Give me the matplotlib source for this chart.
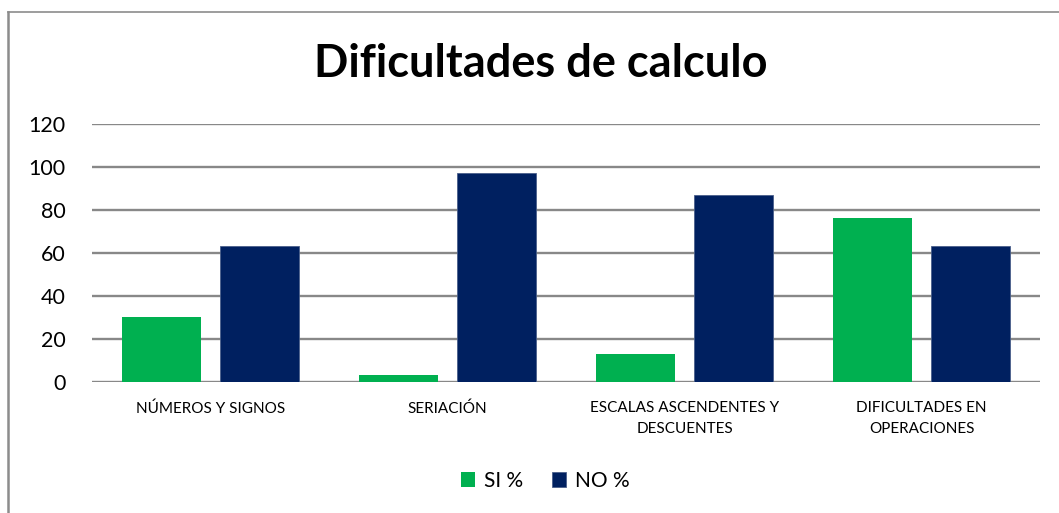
import matplotlib
matplotlib.use("Agg")
import matplotlib.pyplot as plt
from matplotlib.lines import Line2D
import numpy as np

categories = ["NÚMEROS Y SIGNOS", "SERIACIÓN", "ESCALAS ASCENDENTES Y\nDESCUENTES", "DIFICULTADES EN\nOPERACIONES"]
si_values = [30, 3, 13, 76]
no_values = [63, 97, 87, 63]
series_names = ["SI %", "NO %"]
yticks = [0, 20, 40, 60, 80, 100, 120]

plt.rcParams['font.family'] = ['Lato', 'DejaVu Sans']

W, H = 1059, 513
fig = plt.figure(figsize=(W / 100, H / 100), dpi=100)
ax = fig.add_axes([92 / W, 1 - 381.7 / H, (1040 - 92) / W, (381.7 - 124) / H])

x = np.arange(len(categories))
bw = 0.333
off = 0.208
ax.bar(x - off, si_values, bw, color="#00B050", zorder=3, label=series_names[0])
ax.bar(x + off, no_values, bw, color="#002060", zorder=3, label=series_names[1],
       edgecolor="#4a5f8a", linewidth=0.6)

ax.set_xlim(-0.5, len(categories) - 0.5)
ax.set_ylim(0, 120)
ax.set_yticks(yticks)
ax.set_yticklabels([str(v) for v in yticks], fontsize=15.5)
ax.yaxis.grid(True, color="#888888", linewidth=1.7, zorder=0)
ax.set_axisbelow(True)
for s in ax.spines.values():
    s.set_visible(False)
ax.tick_params(axis="both", length=0)
ax.tick_params(axis="y", pad=19)
ax.set_xticks(x)
ax.set_xticklabels(categories, fontsize=11, linespacing=1.6)
ax.tick_params(axis="x", pad=14)

fig.text(541 / W, 1 - 64 / H, "Dificultades de calculo", ha="center", va="center",
         fontsize=32.5, fontweight="bold")

ax.legend(loc="center", bbox_to_anchor=(545 / W, 1 - 481 / H), bbox_transform=fig.transFigure,
          ncol=2, frameon=False, fontsize=15, handlelength=0.7, handleheight=0.7,
          handletextpad=0.4, columnspacing=1.4)

fig.add_artist(Line2D([8 / W, 8 / W], [0, 1 - 12 / H], transform=fig.transFigure,
                      color="#8c8c8c", linewidth=1.8))
fig.add_artist(Line2D([8 / W, 1], [1 - 12 / H, 1 - 12 / H], transform=fig.transFigure,
                      color="#8c8c8c", linewidth=1.2))

fig.savefig("out.png", dpi=100, facecolor="white")
